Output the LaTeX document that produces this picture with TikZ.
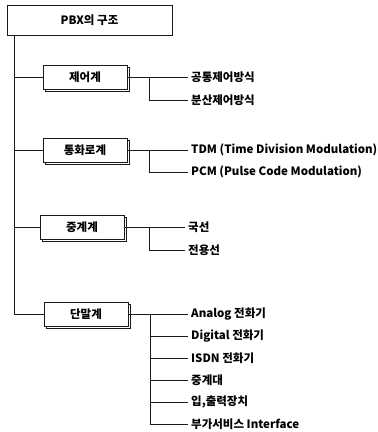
\documentclass[tikz,border=0pt]{standalone}
\usepackage{fontspec}
\setmainfont{Noto Sans CJK KR}
\usepackage{tikz}
\usetikzlibrary{shadows}
\definecolor{InkBlack}{RGB}{25,25,25}

\begin{document}
\begin{tikzpicture}[x=1pt,y=-1pt,
    GroupBox/.style={draw=InkBlack,line width=0.9pt,fill=white,
      minimum width=84pt,minimum height=24pt,inner sep=2pt,
      font=\fontsize{11.5}{13}\selectfont\bfseries,
      copy shadow={shadow xshift=2.5pt,shadow yshift=-2.5pt}},
    ItemText/.style={anchor=west,inner sep=3pt,
      font=\fontsize{11.5}{13}\selectfont\bfseries},
    Link/.style={draw=InkBlack,line width=0.8pt}]
  \useasboundingbox (0,0) rectangle (378,432);

  % top box and the trunk
  \node[draw=InkBlack,line width=0.8pt,minimum width=165pt,minimum height=30pt,
        font=\fontsize{11.5}{13}\selectfont\bfseries] (pbx) at (89.5,20) {PBX의 구조};
  \coordinate (trunk) at ([xshift=8pt]pbx.south west);

  % groups
  \node[GroupBox] (ctl)   at (85,77)  {제어계};
  \node[GroupBox] (voice) at (85,150) {통화로계};
  \node[GroupBox] (relay) at (82,227) {중계계};
  \node[GroupBox] (term)  at (86,314) {단말계};

  % items
  \node[ItemText] (ctlA) at (188,77)  {공통제어방식};
  \node[ItemText] (ctlB) at (188,100) {분산제어방식};
  \node[ItemText] (voiceA) at (188,150) {TDM (Time Division Modulation)};
  \node[ItemText] (voiceB) at (188,172) {PCM (Pulse Code Modulation)};
  \node[ItemText] (relayA) at (185,227) {국선};
  \node[ItemText] (relayB) at (185,250) {전용선};
  \node[ItemText] (termA) at (188,314) {Analog 전화기};
  \node[ItemText] (termB) at (188,336) {Digital 전화기};
  \node[ItemText] (termC) at (188,358) {ISDN 전화기};
  \node[ItemText] (termD) at (188,380) {중계대};
  \node[ItemText] (termE) at (188,402) {입,출력장치};
  \node[ItemText] (termF) at (188,424) {부가서비스 Interface};

  % connectors
  \draw[Link] (trunk) |- (term.west);
  \foreach \g in {ctl,voice,relay}
    \draw[Link] (\g.west) -- (\g.west -| trunk);

  \draw[Link] (ctl.east) -- (ctlA.west);
  \draw[Link] (ctlB.west) -| ([xshift=22pt]ctl.east);
  \draw[Link] (voice.east) -- (voiceA.west);
  \draw[Link] (voiceB.west) -| ([xshift=22pt]voice.east);
  \draw[Link] (relay.east) -- (relayA.west);
  \draw[Link] (relayB.west) -| ([xshift=25pt]relay.east);
  \draw[Link] (term.east) -- (termA.west);
  \foreach \i in {B,C,D,E,F}
    \draw[Link] (term\i.west) -| ([xshift=22pt]term.east);
\end{tikzpicture}
\end{document}
